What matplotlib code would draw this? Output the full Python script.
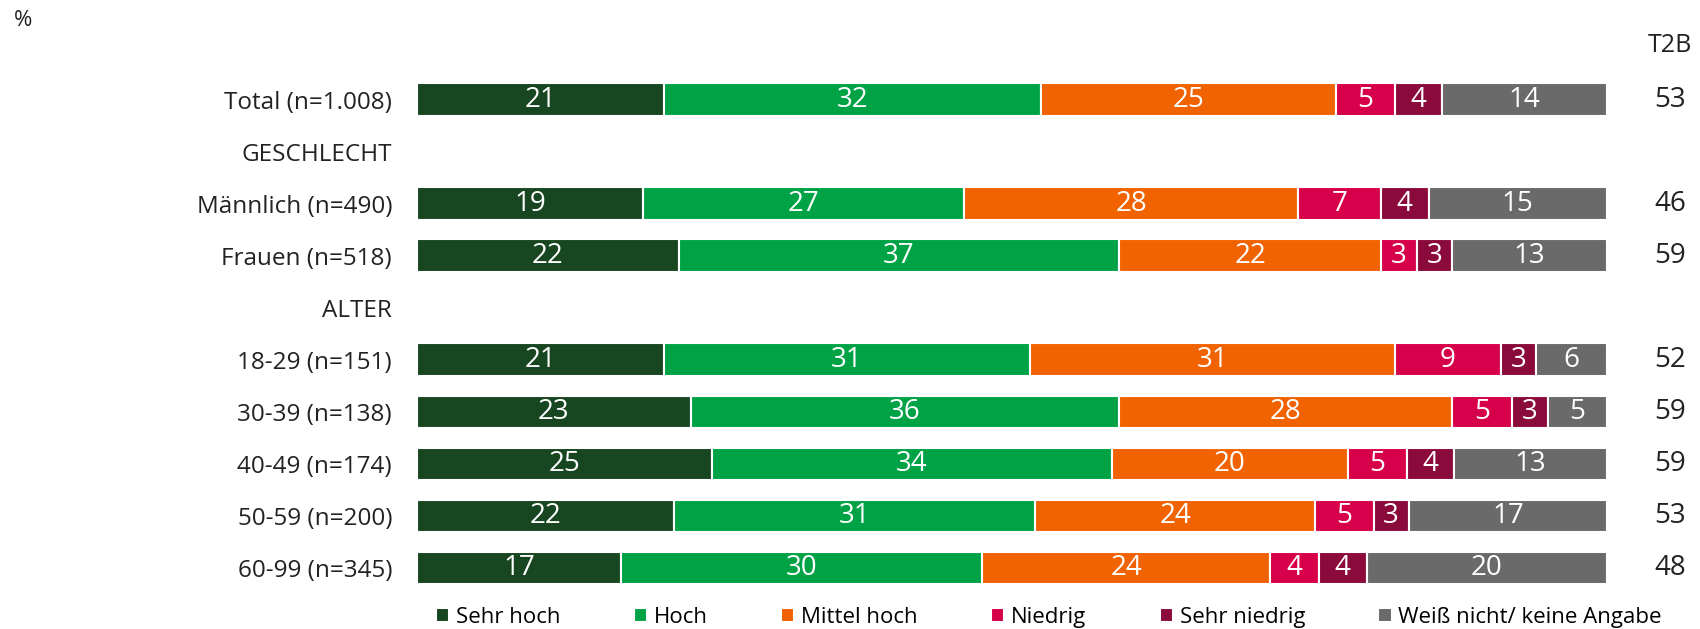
import numpy as np
import matplotlib
matplotlib.use("Agg")
import matplotlib.pyplot as plt
from matplotlib.transforms import blended_transform_factory

plt.rcParams['font.family'] = ['Open Sans', 'DejaVu Sans']

rows = ["Total (n=1.008)", "GESCHLECHT", "Männlich (n=490)", "Frauen (n=518)", "ALTER",
        "18-29 (n=151)", "30-39 (n=138)", "40-49 (n=174)", "50-59 (n=200)", "60-99 (n=345)"]
series = ["Sehr hoch", "Hoch", "Mittel hoch", "Niedrig", "Sehr niedrig", "Weiß nicht/ keine Angabe"]
colors = ["#184620", "#00a246", "#f06300", "#d7004b", "#8a0b3b", "#6a6a6a"]

# None = header row without a bar
values = [
    [21, 32, 25, 5, 4, 14],
    None,
    [19, 27, 28, 7, 4, 15],
    [22, 37, 22, 3, 3, 13],
    None,
    [21, 31, 31, 9, 3, 6],
    [23, 36, 28, 5, 3, 5],
    [25, 34, 20, 5, 4, 13],
    [22, 31, 24, 5, 3, 17],
    [17, 30, 24, 4, 4, 20],
]
t2b = [53, None, 46, 59, None, 52, 59, 59, 53, 48]

fig = plt.figure(figsize=(17, 6.29), dpi=100)
ax = fig.add_axes([0.2453, 0.0556, 0.70, 0.8272])

for i, row in enumerate(values):
    if row is None:
        continue
    arr = np.array(row, dtype=float)
    widths = arr / arr.sum() * 100
    left = 0
    for j, w in enumerate(widths):
        ax.barh(i, w, left=left, height=0.63, color=colors[j], edgecolor="white", linewidth=1.5,
                label=series[j] if i == 0 else None)
        ax.text(left + w / 2, i, str(row[j]), ha="center", va="center", color="white", fontsize=20)
        left += w

ax.set_xlim(0, 100)
ax.set_ylim(len(rows) - 0.5, -0.5)
ax.set_yticks(range(len(rows)))
ax.set_yticklabels(rows, fontsize=17.5, color="#222222")
ax.tick_params(axis="y", length=0, pad=18)
ax.set_xticks([])
for s in ax.spines.values():
    s.set_visible(False)

tr = blended_transform_factory(ax.transAxes, ax.transData)
ax.text(1.053, -1.04, "T2B", transform=tr, ha="center", va="center", fontsize=18, color="#222222", clip_on=False)
for i, v in enumerate(t2b):
    if v is not None:
        ax.text(1.053, i, str(v), transform=tr, ha="center", va="center", fontsize=20, color="#222222", clip_on=False)

fig.text(0.008, 0.968, "%", fontsize=16, color="#222222", ha="left", va="center")

fig.legend(loc="center", bbox_to_anchor=(0.617, 0.019), ncol=6, frameon=False, fontsize=16,
           handlelength=0.6, handleheight=0.6, handletextpad=0.3, columnspacing=3.3)

fig.savefig("out.png", dpi=100)
